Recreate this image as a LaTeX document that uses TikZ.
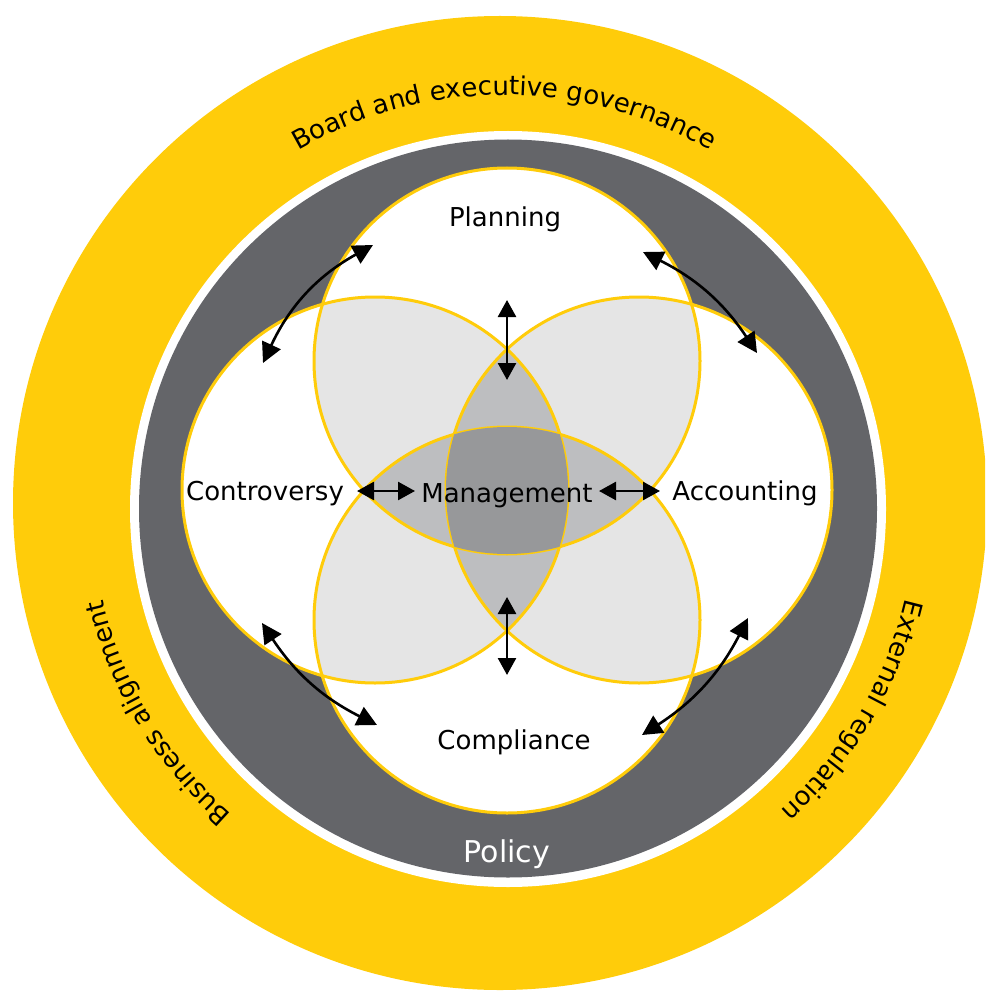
\documentclass[tikz,border=0pt]{standalone}
\usepackage{fontspec}
\setmainfont{DejaVu Sans}
\usetikzlibrary{arrows.meta,decorations.text}
\definecolor{eyyellow}{HTML}{FFCC0A}
\definecolor{ringgray}{HTML}{646569}
\definecolor{gone}{HTML}{E5E5E5}
\definecolor{gtwo}{HTML}{BDBEC0}
\definecolor{gthree}{HTML}{97989A}
\def\R{193}
\tikzset{
  lbl/.style={font=\fontsize{26}{30}\selectfont, inner sep=0pt, anchor=base, text=black},
  outline/.style={draw=eyyellow, line width=3pt},
  dbl/.style={line width=2.6pt, {Triangle[length=17pt,width=18pt]}-{Triangle[length=17pt,width=18pt]}},
  curv/.style={line width=2.6pt, {Triangle[length=20pt,width=20pt]}-{Triangle[length=20pt,width=20pt]}},
  ringtext/.style={decorate, decoration={text along path, text align=center}}
}
\begin{document}
\begin{tikzpicture}[x=1pt,y=1pt]
\useasboundingbox (0,0) rectangle (985,-992);
\clip (0,0) rectangle (985,-992);
% rings
\fill[eyyellow] (500,-503) circle (487);
\fill[white] (508,-509) circle (378);
\fill[ringgray] (508,-508.5) circle (369);
% circle centres
\coordinate (P) at (507,-361);
\coordinate (Cm) at (507,-620);
\coordinate (Co) at (375,-490);
\coordinate (A) at (639,-490);
\foreach \c in {P,Cm,Co,A} \fill[white] (\c) circle (\R);
% pairwise overlaps
\foreach \a/\b in {P/Co,P/A,P/Cm,Cm/Co,Cm/A,Co/A}{
  \begin{scope}\clip (\a) circle (\R); \fill[gone] (\b) circle (\R);\end{scope}}
% triple overlaps
\foreach \a/\b/\c in {P/Co/A,P/Co/Cm,P/A/Cm,Cm/Co/A}{
  \begin{scope}\clip (\a) circle (\R); \clip (\b) circle (\R); \fill[gtwo] (\c) circle (\R);\end{scope}}
\foreach \c in {P,Cm,Co,A} \draw[outline] (\c) circle (\R);
% quadruple overlap
\begin{scope}\clip (P) circle (\R); \clip (Cm) circle (\R); \clip (Co) circle (\R); \fill[gthree] (A) circle (\R);\end{scope}
% ring texts
\path[ringtext, decoration={text={|\fontsize{26}{30}\selectfont|Board and executive governance}}]
  (504,-505) ++(150:410) arc[start angle=150, end angle=30, radius=410];
\path[ringtext, decoration={text={|\fontsize{26}{30}\selectfont|Business alignment}}]
  (504,-505) ++(271:412) arc[start angle=271, end angle=151, radius=412];
\path[ringtext, decoration={text={|\fontsize{26}{30}\selectfont|External regulation}}]
  (504,-505) ++(29.5:412) arc[start angle=29.5, end angle=-90.5, radius=412];
% labels
\node[lbl] (planning) at (505,-226) {Planning};
\node[lbl] (controversy) at (265,-500) {Controversy};
\node[lbl] (management) at (507,-502) {Management};
\node[lbl] (accounting) at (745,-500) {Accounting};
\node[lbl] (compliance) at (514,-749) {Compliance};
\node[lbl, text=white, font=\fontsize{30}{34}\selectfont] (policy) at (507,-862) {Policy};
% arrow ends
\coordinate (t1) at (507,-300); \coordinate (t2) at (507,-380);
\coordinate (b1) at (507,-597); \coordinate (b2) at (507,-675);
\coordinate (l1) at (357,-491); \coordinate (l2) at (415,-491);
\coordinate (r1) at (599,-491); \coordinate (r2) at (660,-491);
\coordinate (d1s) at (263,-363); \coordinate (d1e) at (373,-245);
\coordinate (d2s) at (643,-252); \coordinate (d2e) at (757,-353);
\coordinate (d3s) at (262,-623); \coordinate (d3e) at (377,-725);
\coordinate (d4s) at (748,-618); \coordinate (d4e) at (642,-735);
\draw[dbl] (t1) -- (t2);
\draw[dbl] (b1) -- (b2);
\draw[dbl] (l1) -- (l2);
\draw[dbl] (r1) -- (r2);
\draw[curv] (d1s) to[bend left=18] (d1e);
\draw[curv] (d2s) to[bend left=15] (d2e);
\draw[curv] (d3s) to[bend right=15] (d3e);
\draw[curv] (d4s) to[bend left=15] (d4e);
\end{tikzpicture}
\end{document}
